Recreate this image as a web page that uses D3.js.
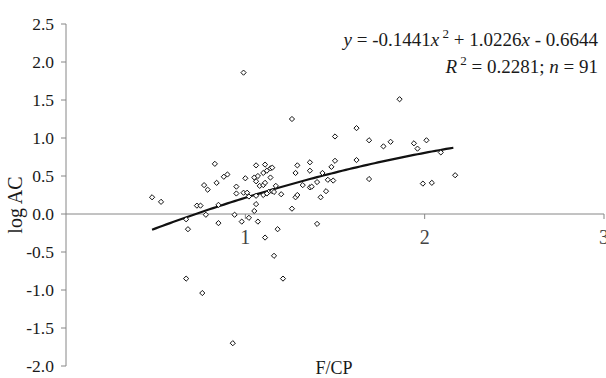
<!DOCTYPE html>
<html>
<head>
<meta charset="utf-8">
<script src="https://cdn.jsdelivr.net/npm/d3@7"></script>
<style>
  body { margin: 0; background: #fff; }
  svg { display: block; font-family: "Liberation Serif", "Times New Roman", serif; }
</style>
</head>
<body>
<svg id="chart" width="606" height="378"></svg>
<script>
// F/CP values
const fcp = [
  0.99, 1.26, 1.50, 0.48, 0.53, 0.83, 0.88, 0.90, 0.77, 0.79,
  0.84, 0.73, 0.75, 0.85, 0.67, 0.78, 0.68, 0.85, 0.95, 0.95,
  0.99, 1.01, 1.02, 1.00, 1.06, 1.11, 1.05, 1.07, 1.06, 1.08,
  1.10, 1.11, 1.10, 1.12, 1.14, 1.15, 1.14, 1.06, 1.10, 1.13,
  1.15, 1.16, 1.17, 1.20, 1.06, 1.05, 0.94, 0.98, 1.02, 1.07,
  1.18, 1.11, 1.26, 1.28, 1.29, 1.28, 1.29, 1.32, 1.36, 1.36,
  1.36, 1.37, 1.40, 1.43, 1.42, 1.45, 1.46, 1.48, 1.49, 1.50,
  1.40, 1.86, 1.62, 1.69, 1.77, 1.81, 1.94, 2.01, 1.96, 2.09,
  2.17, 1.99, 2.04, 1.69, 1.62, 0.67, 0.76, 1.16, 1.21, 0.93,
  1.12
]
// log AC values
const logAC = [
  1.86, 1.25, 1.02, 0.22, 0.16, 0.66, 0.49, 0.52, 0.38, 0.32,
  0.41, 0.11, 0.11, 0.12, -0.07, -0.01, -0.20, -0.12, 0.36, 0.27,
  0.28, 0.28, 0.23, 0.47, 0.64, 0.65, 0.48, 0.50, 0.43, 0.37,
  0.38, 0.41, 0.54, 0.57, 0.60, 0.61, 0.48, 0.24, 0.25, 0.29,
  0.30, 0.29, 0.37, 0.26, 0.13, 0.04, -0.01, -0.10, -0.05, -0.10,
  -0.20, -0.31, 0.07, 0.22, 0.25, 0.54, 0.64, 0.38, 0.68, 0.57,
  0.35, 0.36, 0.42, 0.54, 0.22, 0.30, 0.45, 0.62, 0.44, 0.70,
  -0.13, 1.51, 1.13, 0.97, 0.89, 0.95, 0.93, 0.97, 0.86, 0.81,
  0.51, 0.40, 0.41, 0.46, 0.71, -0.85, -1.04, -0.55, -0.85, -1.70,
  0.27
]
const yTicks = [2.5, 2.0, 1.5, 1.0, 0.5, 0.0, -0.5, -1.0, -1.5, -2.0]
const xTicks = [1, 2, 3]
// trend: y = a*x^2 + b*x + c
const coef = [-0.1441, 1.0226, -0.6644]

const svg = d3.select("#chart")
const axisColor = "#868686"
const textColor = "#1a1a1a"

const x = d3.scaleLinear().domain([0, 3]).range([66, 604])
const y = d3.scaleLinear().domain([-2, 2.5]).range([366, 24])

// y axis
svg.append("line")
  .attr("x1", x(0)).attr("x2", x(0))
  .attr("y1", y(2.5)).attr("y2", y(-2))
  .attr("stroke", axisColor).attr("stroke-width", 1)

yTicks.forEach(t => {
  svg.append("line")
    .attr("x1", x(0) - 5).attr("x2", x(0))
    .attr("y1", y(t)).attr("y2", y(t))
    .attr("stroke", axisColor)
  svg.append("text")
    .attr("x", x(0) - 12).attr("y", y(t))
    .attr("dy", "0.35em")
    .attr("text-anchor", "end")
    .attr("font-size", 17.5)
    .attr("fill", textColor)
    .text(t.toFixed(1))
})

// x axis at y = 0
svg.append("line")
  .attr("x1", x(0)).attr("x2", x(3))
  .attr("y1", y(0)).attr("y2", y(0))
  .attr("stroke", axisColor).attr("stroke-width", 1)

xTicks.forEach(t => {
  svg.append("line")
    .attr("x1", x(t)).attr("x2", x(t))
    .attr("y1", y(0)).attr("y2", y(0) + 5)
    .attr("stroke", axisColor)
  svg.append("text")
    .attr("x", x(t)).attr("y", y(0) + 30)
    .attr("text-anchor", "middle")
    .attr("font-size", 20)
    .attr("fill", "#444")
    .text(t)
})

// axis titles
svg.append("text")
  .attr("transform", "translate(22," + 205 + ") rotate(-90)")
  .attr("text-anchor", "middle")
  .attr("font-size", 20)
  .attr("fill", textColor)
  .text("log AC")

svg.append("text")
  .attr("x", 334).attr("y", 374)
  .attr("text-anchor", "middle")
  .attr("font-size", 18)
  .attr("fill", textColor)
  .text("F/CP")

// trend line
const xs = d3.extent(fcp)
const curve = d3.range(xs[0], xs[1] + 0.001, 0.02).map(v => [v, coef[0] * v * v + coef[1] * v + coef[2]])
svg.append("path")
  .datum(curve)
  .attr("fill", "none")
  .attr("stroke", "#111")
  .attr("stroke-width", 2.2)
  .attr("d", d3.line().x(d => x(d[0])).y(d => y(d[1])))

// points (diamonds)
const pts = fcp.map((v, i) => [v, logAC[i]])
svg.append("g").selectAll("path")
  .data(pts)
  .join("path")
  .attr("transform", d => "translate(" + x(d[0]) + "," + y(d[1]) + ")")
  .attr("d", "M0,-2.6L2.6,0L0,2.6L-2.6,0Z")
  .attr("fill", "#fff")
  .attr("stroke", "#111")
  .attr("stroke-width", 1)

// equation text
const eq = svg.append("text")
  .attr("x", 598).attr("y", 46)
  .attr("text-anchor", "end")
  .attr("font-size", 19)
  .attr("fill", textColor)
eq.append("tspan").attr("font-style", "italic").text("y")
eq.append("tspan").text(" = " + coef[0] + "")
eq.append("tspan").attr("font-style", "italic").text("x")
eq.append("tspan").attr("font-size", 13).attr("dy", -8).text(" 2")
eq.append("tspan").attr("dy", 8).text(" + " + coef[1])
eq.append("tspan").attr("font-style", "italic").text("x")
eq.append("tspan").text("  - " + (-coef[2]))

const r2 = svg.append("text")
  .attr("x", 598).attr("y", 73)
  .attr("text-anchor", "end")
  .attr("font-size", 19)
  .attr("fill", textColor)
r2.append("tspan").attr("font-style", "italic").text("R")
r2.append("tspan").attr("font-size", 13).attr("dy", -8).text(" 2")
r2.append("tspan").attr("dy", 8).text(" = 0.2281; ")
r2.append("tspan").attr("font-style", "italic").text("n")
r2.append("tspan").text(" = 91")
</script>
</body>
</html>
